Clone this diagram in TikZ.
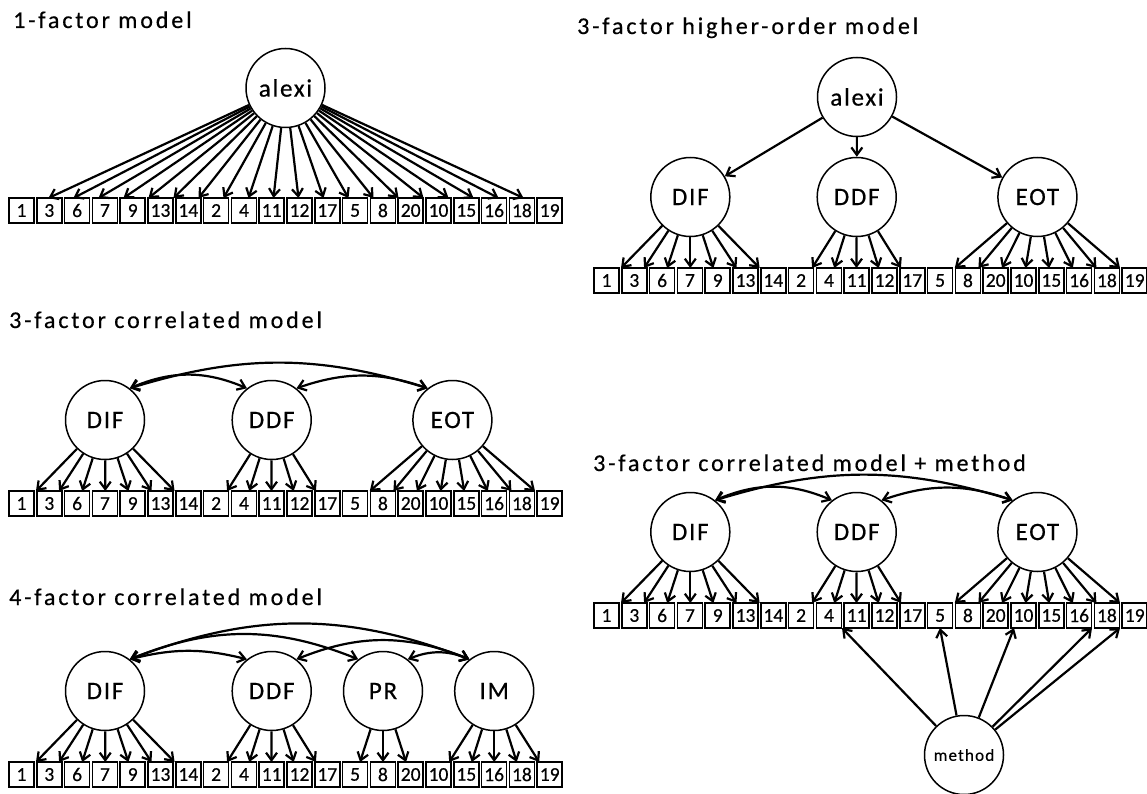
\documentclass[tikz,border=0pt]{standalone}
\usepackage{fontspec}
\setmainfont{Carlito}[FakeBold=0.5]
\newfontfamily\titlefont{Carlito}[LetterSpace=12,FakeBold=0.5]
\newfontfamily\latfont{Carlito}[LetterSpace=7,FakeBold=0.5]
\usetikzlibrary{arrows.meta}
\newcommand\itemrow[3]{%
  \foreach \lab [count=\i from 0] in {1,3,6,7,9,13,14,2,4,11,12,17,5,8,20,10,15,16,18,19}
    {\node[itembox] (#1\i) at ({#2+27.8*\i},#3) {\lab};}}
\newcommand\loads[6]{%
  \foreach \k in {1,...,#2}
    {\coordinate (#6\k) at ({#3+#4*(\k-(#2+1)/2)},#5);
     \draw[load] (#1) -- (#6\k);}}
\begin{document}
\begin{tikzpicture}[x=1pt,y=-1pt,
  latent/.style={circle,draw,line width=1.5pt,minimum size=79pt,inner sep=0pt,
    font=\latfont\fontsize{25}{27}\selectfont},
  itembox/.style={draw,line width=1.5pt,minimum width=25pt,minimum height=25pt,
    inner sep=0pt,font=\fontsize{19.5}{20}\selectfont},
  ttl/.style={anchor=base west,inner sep=0pt,font=\titlefont\fontsize{24}{26}\selectfont},
  load/.style={line width=2.2pt,-{Straight Barb[length=7.5pt,width=11pt]}},
  cov/.style={line width=2.2pt,{Straight Barb[length=7.5pt,width=11pt]}-{Straight Barb[length=7.5pt,width=11pt]}},
]
\useasboundingbox (0,0) rectangle (1147,794);

% ---------- 1-factor model ----------
\node[ttl] (tA) at (13,28) {1-factor model};
\node[latent] (alexiA) at (285.5,88) {alexi};
\itemrow{a}{21.5}{210.5}
\loads{alexiA}{20}{286}{25}{198}{ta}

% ---------- 3-factor correlated model ----------
\node[ttl] (tB) at (9,328) {3-factor correlated model};
\node[latent] (difB) at (105,420) {DIF};
\node[latent] (ddfB) at (271.7,420) {DDF};
\node[latent] (eotB) at (452.4,420) {EOT};
\itemrow{b}{21.5}{503.5}
\loads{difB}{7}{105.3}{23.1}{491}{tb}
\loads{ddfB}{5}{271.5}{22.2}{491}{tc}
\loads{eotB}{8}{452.4}{23.6}{491}{td}
\draw[cov] (difB.52) to[bend left=23] (ddfB.128);
\draw[cov] (ddfB.52) to[bend left=19] (eotB.128);
\draw[cov] (difB.52) to[bend left=17] (eotB.128);

% ---------- 4-factor correlated model ----------
\node[ttl] (tC) at (9,605) {4-factor correlated model};
\node[latent] (difC) at (105,691) {DIF};
\node[latent] (ddfC) at (271.7,691) {DDF};
\node[latent] (prC) at (383,691) {PR};
\node[latent] (imC) at (494.2,691) {IM};
\itemrow{c}{21.5}{774.5}
\loads{difC}{7}{105.3}{23.1}{762}{te}
\loads{ddfC}{5}{271.5}{22.2}{762}{tf}
\loads{prC}{3}{383}{23}{762}{tg}
\loads{imC}{5}{494.2}{22.5}{762}{th}
\draw[cov] (difC.52) to[bend left=14] (ddfC.128);
\draw[cov] (difC.52) to[bend left=22] (prC.128);
\draw[cov] (difC.52) to[bend left=21] (imC.128);
\draw[cov] (ddfC.52) to[bend left=22] (imC.128);
\draw[cov] (prC.52) to[bend left=22] (imC.128);

% ---------- 3-factor higher-order model ----------
\node[ttl] (tD) at (577,34) {3-factor higher-order model};
\node[latent] (alexiR) at (857,97) {alexi};
\node[latent] (difR) at (690.3,197) {DIF};
\node[latent] (ddfR) at (856.7,197) {DDF};
\node[latent] (eotR) at (1037.4,197) {EOT};
\itemrow{d}{606.5}{280.5}
\loads{difR}{7}{690.3}{23.1}{268}{ti}
\loads{ddfR}{5}{856.5}{22.2}{268}{tj}
\loads{eotR}{8}{1037.4}{23.6}{268}{tk}
\draw[load] (alexiR) -- (difR);
\draw[load] (alexiR) -- (ddfR);
\draw[load] (alexiR) -- (eotR);

% ---------- 3-factor correlated model + method ----------
\node[ttl] (tE) at (593,471) {3-factor correlated model + method};
\node[latent] (difM) at (690.3,532) {DIF};
\node[latent] (ddfM) at (856.7,532) {DDF};
\node[latent] (eotM) at (1037.4,532) {EOT};
\itemrow{e}{606.5}{615.5}
\loads{difM}{7}{690.3}{23.1}{603}{tl}
\loads{ddfM}{5}{856.5}{22.2}{603}{tm}
\loads{eotM}{8}{1037.4}{23.6}{603}{tn}
\draw[cov] (difM.52) to[bend left=23] (ddfM.128);
\draw[cov] (ddfM.52) to[bend left=19] (eotM.128);
\draw[cov] (difM.52) to[bend left=17] (eotM.128);
\node[latent,font=\latfont\fontsize{17}{19}\selectfont] (meth) at (964,755) {method};
\coordinate (mu1) at (842,628);
\coordinate (mu2) at (940,628);
\coordinate (mu3) at (1014,628);
\coordinate (mu4) at (1092,628);
\coordinate (mu5) at (1120,628);
\foreach \m in {1,...,5} {\draw[load] (meth) -- (mu\m);}
\end{tikzpicture}
\end{document}
